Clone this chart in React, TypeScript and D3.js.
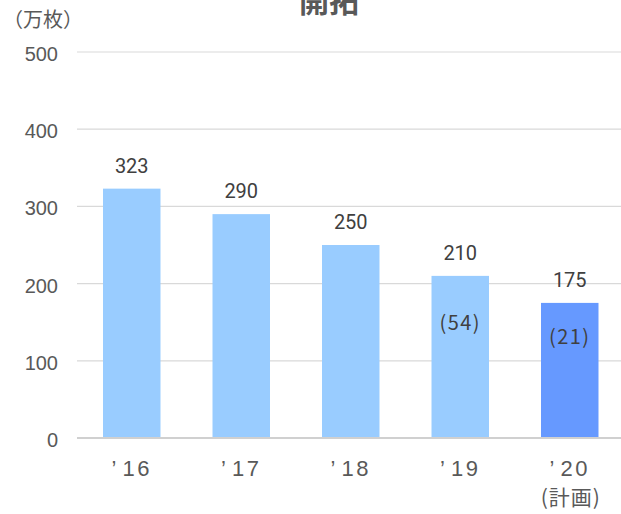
import React from "react";
import * as d3 from "d3";

const categories = ["16", "17", "18", "19", "20"];
const values = [323, 290, 250, 210, 175];
const innerLabels = ["", "", "", "(54)", "(21)"];
const innerLabelPos = [0, 0, 0, 140, 122];
const barColors = ["#99ccff", "#99ccff", "#99ccff", "#99ccff", "#6699ff"];
const yTicks = [0, 100, 200, 300, 400, 500];

const W = 621;
const H = 514;
const left = 77;
const right = 624.5;
const top = 52;
const bottom = 438;

export default function App() {
  const x = d3.scaleBand<string>().domain(categories).range([left, right]).paddingInner(0.475).paddingOuter(0.2375);
  const y = d3.scaleLinear().domain([0, 500]).range([bottom, top]);
  const txt = "#595959";
  return (
    <svg width={W} height={H} style={{ position: "absolute", left: 0, top: 0 }}>
      <rect width={W} height={H} fill="#fff" />
      <text x={329} y={12} textAnchor="middle" fontSize={30} fontWeight="bold" fill={txt} fontFamily="'Noto Sans CJK JP'">開拓</text>
      <text x={3} y={27} fontSize={20} fill={txt} fontFamily="'Noto Sans CJK JP'">（万枚）</text>
      {yTicks.map((t) => (
        <g key={t}>
          <line x1={left} x2={W} y1={y(t)} y2={y(t)} stroke={t === 0 ? "#d0d0d0" : "#d9d9d9"} strokeWidth={t === 0 ? 2 : 1.2} />
          <text x={58} y={y(t) + 9} textAnchor="end" fontSize={20} fill={txt} fontFamily="'Liberation Sans', Arial">{t}</text>
        </g>
      ))}
      {categories.map((c, i) => {
        const bx = x(c)!;
        const bw = x.bandwidth();
        const cx = bx + bw / 2;
        return (
          <g key={c}>
            <rect x={bx} y={y(values[i])} width={bw} height={bottom - y(values[i]) - 1} fill={barColors[i]} />
            <text x={cx} y={y(values[i]) - 16} textAnchor="middle" fontSize={20} fill="#404040" fontFamily="Roboto">{values[i]}</text>
            {innerLabels[i] && (
              <text x={cx} y={y(innerLabelPos[i])} textAnchor="middle" fontSize={20} fill="#404040" fontFamily="'Noto Sans CJK JP'" letterSpacing={1.5}>{innerLabels[i]}</text>
            )}
            <text x={cx} y={476} textAnchor="middle" fontSize={22} fill={txt} fontFamily="'Liberation Sans', Arial">
              <tspan>’</tspan>
              <tspan dx={6} letterSpacing={2.5}>{c}</tspan>
            </text>
          </g>
        );
      })}
      <text x={x(categories[4])! + x.bandwidth() / 2 + 1} y={505} textAnchor="middle" fontSize={21} fill={txt} fontFamily="'Noto Sans CJK JP'" letterSpacing={1}>(計画)</text>
    </svg>
  );
}
